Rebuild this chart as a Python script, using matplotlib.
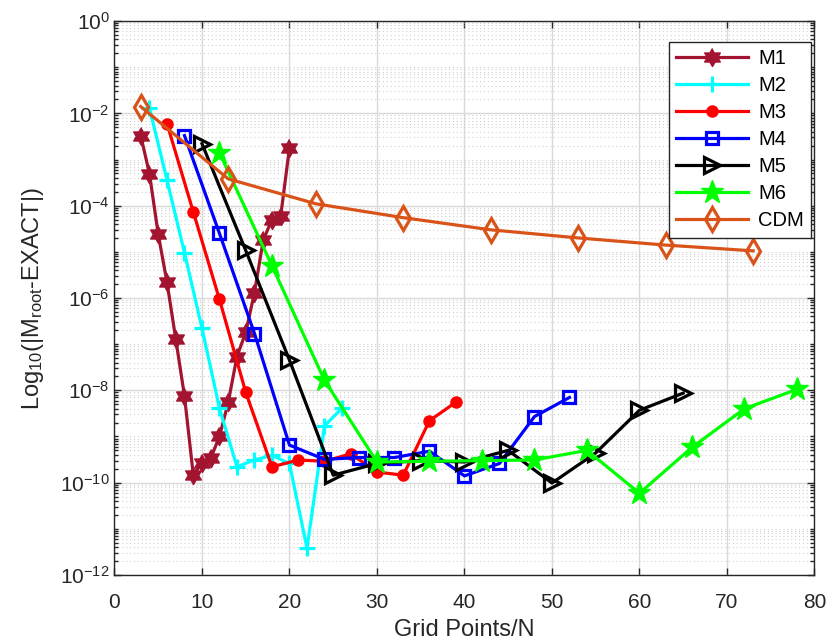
import numpy as np
import matplotlib
matplotlib.use("Agg")
import matplotlib.pyplot as plt
from matplotlib.ticker import NullFormatter

plt.rcParams['font.family'] = ['Liberation Sans', 'DejaVu Sans']
plt.rcParams['mathtext.fontset'] = 'custom'
plt.rcParams['mathtext.rm'] = 'Liberation Sans'
plt.rcParams['mathtext.it'] = 'Liberation Sans:italic'
plt.rcParams['mathtext.default'] = 'regular'

# data
n_m1 = [3, 4, 5, 6, 7, 8, 9, 10, 11, 12, 13, 14, 15, 16, 17, 18, 19, 20]
e_m1 = [3.3e-3, 4.9e-4, 2.4e-5, 2.2e-6, 1.3e-7, 7.5e-9, 1.5e-10, 2.6e-10, 3.4e-10,
        1.0e-9, 5.5e-9, 5.4e-8, 1.8e-7, 1.3e-6, 1.8e-5, 5.0e-5, 6.0e-5, 1.8e-3]

n_m2 = [4, 6, 8, 10, 12, 14, 16, 18, 20, 22, 24, 26]
e_m2 = [1.3e-2, 3.6e-4, 9.6e-6, 2.2e-7, 4.1e-9, 2.2e-10, 3.1e-10, 3.9e-10, 2.6e-10,
        3.8e-12, 1.7e-9, 4.1e-9]

n_m3 = [6, 9, 12, 15, 18, 21, 24, 27, 30, 33, 36, 39]
e_m3 = [6.0e-3, 7.4e-5, 9.3e-7, 9.1e-9, 2.2e-10, 3.1e-10, 2.9e-10, 4.2e-10, 1.7e-10,
        1.45e-10, 2.2e-9, 5.5e-9]

n_m4 = [8, 12, 16, 20, 24, 28, 32, 36, 40, 44, 48, 52]
e_m4 = [3.3e-3, 2.5e-5, 1.7e-7, 6.5e-10, 3.2e-10, 3.5e-10, 3.5e-10, 4.8e-10, 1.4e-10,
        2.6e-10, 2.7e-9, 7.0e-9]

n_m5 = [10, 15, 20, 25, 30, 35, 40, 45, 50, 55, 60, 65]
e_m5 = [2.2e-3, 1.07e-5, 4.5e-8, 1.45e-10, 2.6e-10, 3.0e-10, 2.8e-10, 5.0e-10, 9.8e-11,
        4.4e-10, 3.7e-9, 8.7e-9]

n_m6 = [12, 18, 24, 30, 36, 42, 48, 54, 60, 66, 72, 78]
e_m6 = [1.4e-3, 5.0e-6, 1.65e-8, 2.8e-10, 2.9e-10, 3.0e-10, 3.1e-10, 5.0e-10, 5.9e-11,
        5.8e-10, 4.0e-9, 1.05e-8]

n_cdm = [3, 13, 23, 33, 43, 53, 63, 73]
e_cdm = [1.4e-2, 3.8e-4, 1.1e-4, 5.5e-5, 3.0e-5, 2.0e-5, 1.4e-5, 1.05e-5]

# MATLAB-like hexagram (two overlapping triangles)
ang = np.pi / 2 + np.arange(12) * np.pi / 6
rad = np.where(np.arange(12) % 2 == 0, 1.0, 1 / np.sqrt(3))
hexagram = np.column_stack([rad * np.cos(ang), rad * np.sin(ang)])

fig = plt.figure(figsize=(8.32, 6.43), dpi=100)
ax = fig.add_axes([0.1376, 0.1058, 0.8413, 0.8615])

lw = 2.3
ax.semilogy(n_m1, e_m1, color='#A2142F', lw=lw, marker=hexagram, ms=13,
            mfc='#A2142F', mec='#A2142F', label='M1')
ax.semilogy(n_m2, e_m2, color='cyan', lw=lw, marker='+', ms=11, mew=2.3, label='M2')
ax.semilogy(n_m3, e_m3, color='red', lw=lw, marker='o', ms=8, mfc='red', label='M3')
ax.semilogy(n_m4, e_m4, color='blue', lw=lw, marker='s', ms=9, mfc='none', mew=2.3,
            label='M4')
ax.semilogy(n_m5, e_m5, color='black', lw=lw, marker='>', ms=12, mfc='none', mew=2.3,
            label='M5')
ax.semilogy(n_m6, e_m6, color='#00FF00', lw=lw, marker='*', ms=17, mfc='#00FF00',
            label='M6')
ax.semilogy(n_cdm, e_cdm, color='#D95319', lw=lw, marker='d', ms=12, mfc='none',
            mew=2.3, label='CDM')

ax.set_xlim(0, 80)
ax.set_ylim(1e-12, 1)
ax.set_xticks(np.arange(0, 81, 10))
ax.set_yticks(10.0 ** np.arange(-12, 1, 2))
minor = []
for p in range(-12, 0):
    for k in range(1, 10):
        if not (k == 1 and p % 2 == 0):
            minor.append(k * 10.0 ** p)
ax.set_yticks(minor, minor=True)
ax.yaxis.set_minor_formatter(NullFormatter())
ax.set_yticklabels([r'$10^{%d}$' % p for p in range(-12, 1, 2)])

ax.tick_params(which='both', direction='in', top=True, right=True, labelsize=15,
               colors='#262626')
ax.tick_params(which='major', length=5, width=1)
ax.tick_params(which='minor', length=3, width=1)
ax.tick_params(axis='x', pad=13)
ax.grid(True, which='major', color='#d9d9d9', lw=1, ls='-')
ax.grid(True, which='minor', axis='y', color='#d0d0d0', lw=0.8, ls=(0, (1, 2.5)))
ax.set_axisbelow(True)
for s in ax.spines.values():
    s.set_color('#262626')
    s.set_linewidth(1)

ax.set_xlabel('Grid Points/N', fontsize=17, color='#262626', labelpad=5)
ax.set_ylabel(r'Log$_{10}$(|M$_{root}$-EXACT|)', fontsize=17, color='#262626',
              labelpad=10)

leg = ax.legend(loc='upper right', bbox_to_anchor=(0.995, 0.962), fontsize=14.5,
                fancybox=False, framealpha=1, edgecolor='#262626', borderpad=0.35,
                labelspacing=0.4, handlelength=3.6, handletextpad=0.5,
                borderaxespad=0)
leg.get_frame().set_linewidth(1)

fig.savefig('out.png', dpi=100)
